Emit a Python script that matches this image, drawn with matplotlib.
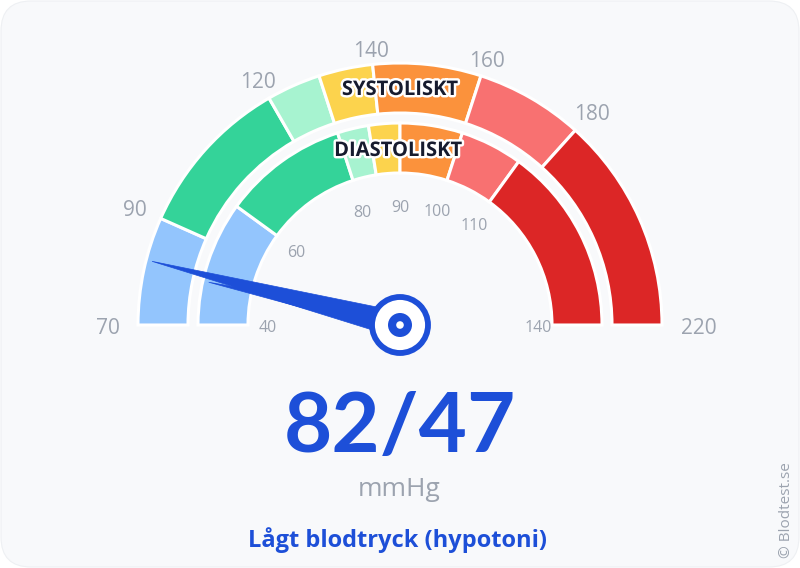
import matplotlib
matplotlib.use("Agg")
import matplotlib.pyplot as plt
import matplotlib.patheffects as pe
import numpy as np
from matplotlib.patches import Wedge, Circle, Polygon, FancyBboxPatch

# --- data -------------------------------------------------------------
SYS_MIN, SYS_MAX = 70, 220
DIA_MIN, DIA_MAX = 40, 140
sys_bounds = [70, 90, 120, 130, 140, 160, 180, 220]
dia_bounds = [40, 60, 80, 85, 90, 100, 110, 140]
zone_colors = ["#93c5fd", "#34d399", "#a7f3d0", "#fcd34d", "#fb923c", "#f87171", "#dc2626"]
sys_ticks = [70, 90, 120, 140, 160, 180, 220]
dia_ticks = [40, 60, 80, 90, 100, 110, 140]
systolic = 82
diastolic = 47
category = "Lågt blodtryck (hypotoni)"

W, H = 800, 568
CX, CY = 400, H - 325
BLUE = "#1d4fd8"
GRAY = "#9ca3af"


def ang(v, lo, hi):
    return 180.0 - (v - lo) / (hi - lo) * 180.0


fig = plt.figure(figsize=(W / 100, H / 100), dpi=100)
fig.patch.set_facecolor("white")
ax = fig.add_axes([0, 0, 1, 1])
ax.set_xlim(0, W)
ax.set_ylim(0, H)
ax.set_aspect("equal")
ax.axis("off")

ax.add_patch(FancyBboxPatch((1, 1), W - 2, H - 2, boxstyle="round,pad=0,rounding_size=30",
                            fc="#f8f9fb", ec="#eef0f3", lw=0.8, zorder=0))

# bands
for bounds, lo, hi, r_out in [(sys_bounds, SYS_MIN, SYS_MAX, 262), (dia_bounds, DIA_MIN, DIA_MAX, 202)]:
    for a, b, c in zip(bounds[:-1], bounds[1:], zone_colors):
        ax.add_patch(Wedge((CX, CY), r_out, ang(b, lo, hi), ang(a, lo, hi), width=50,
                           fc=c, ec="white", lw=2.2, zorder=2))

# tick labels (text centre pushed out a bit more where the label sits sideways)
for v in sys_ticks:
    t = np.radians(ang(v, SYS_MIN, SYS_MAX))
    r = 278 + 7 * len(str(v)) * np.cos(t) ** 2
    ax.text(CX + r * np.cos(t), CY + r * np.sin(t) - 3, str(v), ha="center", va="center",
            fontsize=15, color=GRAY, family="Open Sans", zorder=3)
for v in dia_ticks:
    t = np.radians(ang(v, DIA_MIN, DIA_MAX))
    r = 120 + 6 * len(str(v)) * np.cos(t) ** 2
    ax.text(CX + r * np.cos(t), CY + r * np.sin(t) - 3, str(v), ha="center", va="center",
            fontsize=11.5, color=GRAY, family="Open Sans", zorder=3)

# band titles
stroke = [pe.withStroke(linewidth=3.5, foreground="white")]
ax.text(400, H - 90, "SYSTOLISKT", ha="center", va="center", fontsize=14.5, fontweight="bold",
        color="#161b2e", family="Open Sans", path_effects=stroke, zorder=4)
ax.text(398, H - 151, "DIASTOLISKT", ha="center", va="center", fontsize=14.5, fontweight="bold",
        color="#161b2e", family="Open Sans", path_effects=stroke, zorder=4)


def needle(value, lo, hi, length, half_w):
    t = np.radians(ang(value, lo, hi))
    tip = (CX + length * np.cos(t), CY + length * np.sin(t))
    nx, ny = -np.sin(t), np.cos(t)
    pts = [tip, (CX + half_w * nx, CY + half_w * ny), (CX - half_w * nx, CY - half_w * ny)]
    ax.add_patch(Polygon(pts, closed=True, fc=BLUE, ec=BLUE, lw=0.5, zorder=5))


needle(systolic, SYS_MIN, SYS_MAX, 256, 13)
needle(diastolic, DIA_MIN, DIA_MAX, 196, 9)

# hub
ax.add_patch(Circle((CX, CY), 28, fc="white", ec=BLUE, lw=4.2, zorder=6))
ax.add_patch(Circle((CX, CY), 12, fc=BLUE, ec="none", zorder=7))
ax.add_patch(Circle((CX, CY), 3.8, fc="white", ec="none", zorder=8))

# readout
ax.text(400, H - 428, f"{systolic}/{diastolic}", ha="center", va="center", fontsize=60,
        fontweight="bold", color=BLUE, family="Lato", zorder=4)
ax.text(399, H - 490, "mmHg", ha="center", va="center", fontsize=19, color=GRAY,
        family="Open Sans", zorder=4)
ax.text(397, H - 540, category, ha="center", va="center", fontsize=17, fontweight="bold",
        color=BLUE, family="Open Sans", zorder=4)
ax.text(787, H - 510, "© Blodtest.se", ha="center", va="center", rotation=90, fontsize=11,
        color=GRAY, family="Open Sans", zorder=4)

fig.savefig("out.png", dpi=100)
